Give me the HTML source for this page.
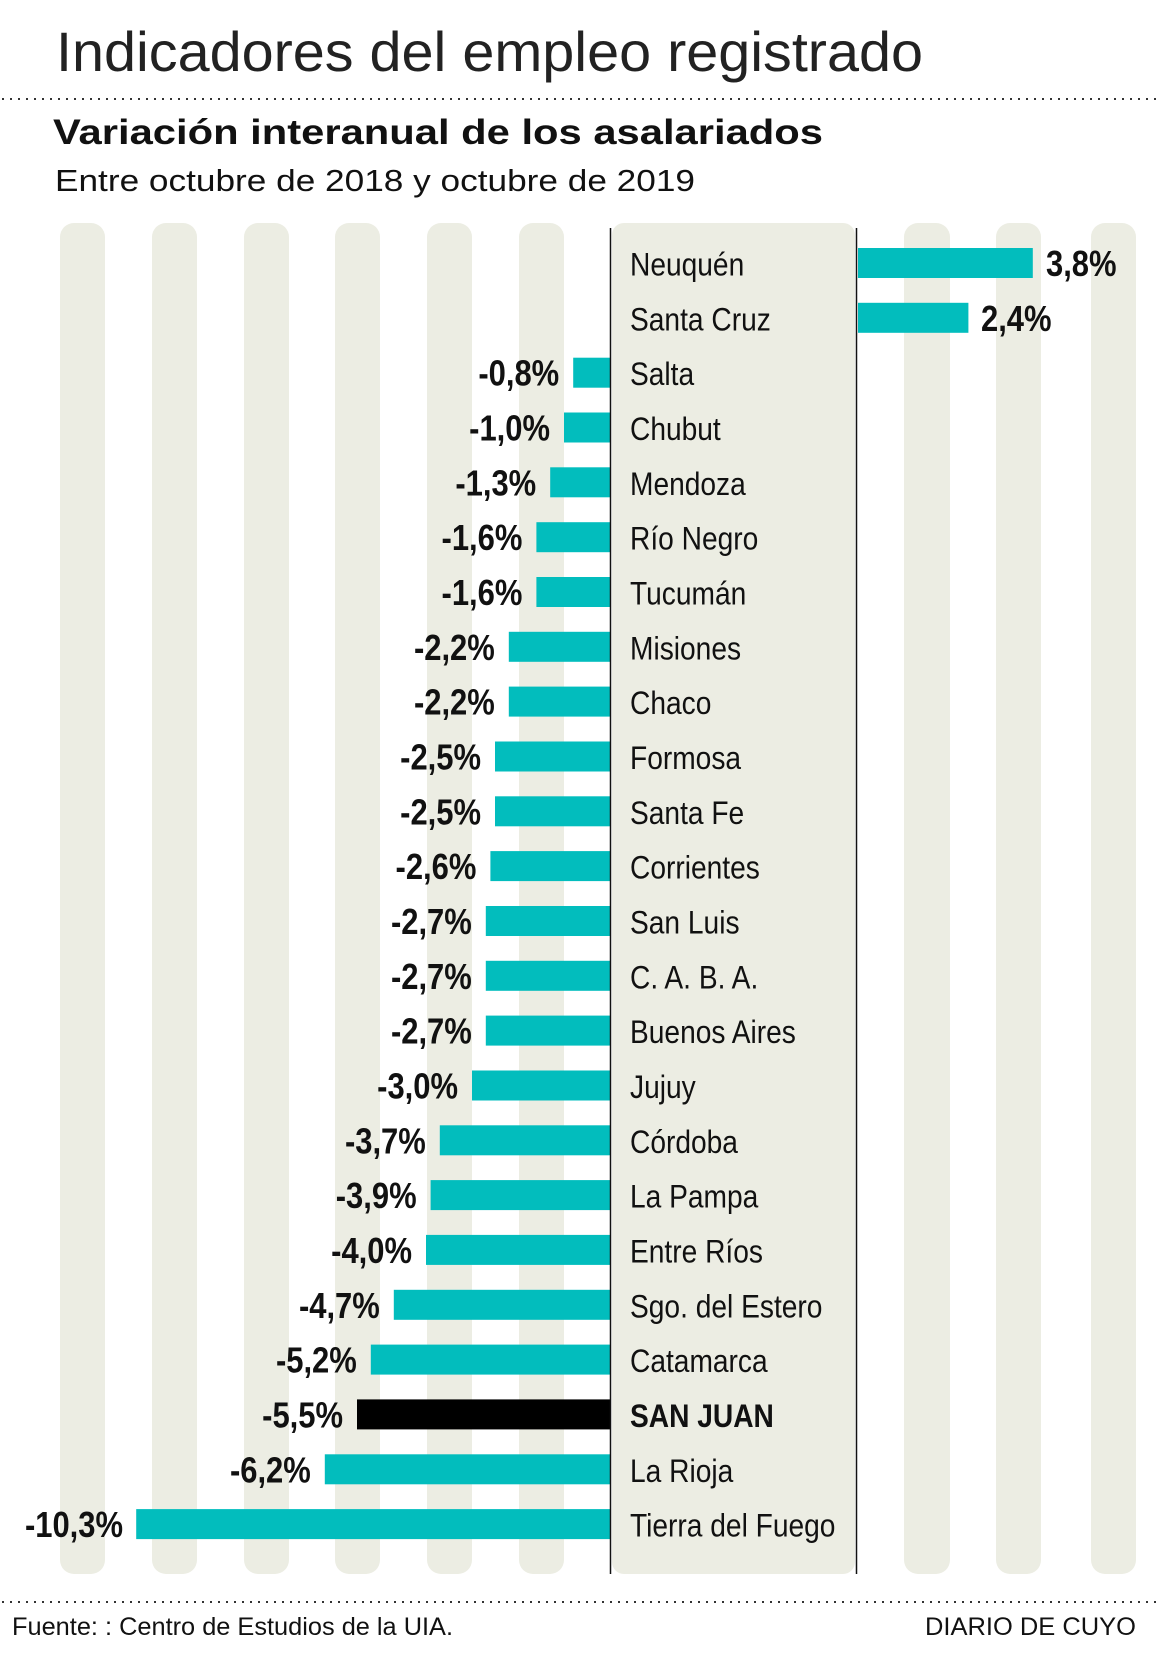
<!DOCTYPE html>
<html>
<head>
<meta charset="utf-8">
<style>
html,body{margin:0;padding:0;background:#fff;}
svg{display:block;}
text{font-family:"Liberation Sans", Arial, sans-serif;}
</style>
</head>
<body>
<svg width="1157" height="1654" viewBox="0 0 1157 1654" xmlns="http://www.w3.org/2000/svg">
  <rect width="1157" height="1654" fill="#ffffff"/>

  <!-- Title -->
  <text x="56" y="71" font-size="56" fill="#222" textLength="867" lengthAdjust="spacingAndGlyphs">Indicadores del empleo registrado</text>
  <line x1="2" y1="99" x2="1156" y2="99" stroke="#333" stroke-width="2" stroke-dasharray="2 6"/>
  <text x="53" y="144" font-size="35" font-weight="bold" fill="#111" textLength="770" lengthAdjust="spacingAndGlyphs">Variación interanual de los asalariados</text>
  <text x="55" y="191" font-size="31" fill="#111" textLength="640" lengthAdjust="spacingAndGlyphs">Entre octubre de 2018 y octubre de 2019</text>

  <!-- Background stripes -->
  <g fill="#ecede3">
    <rect x="60" y="223" width="45" height="1351" rx="14"/>
    <rect x="152" y="223" width="45" height="1351" rx="14"/>
    <rect x="244" y="223" width="45" height="1351" rx="14"/>
    <rect x="335" y="223" width="45" height="1351" rx="14"/>
    <rect x="427" y="223" width="45" height="1351" rx="14"/>
    <rect x="519" y="223" width="45" height="1351" rx="14"/>
    <rect x="612" y="223" width="243" height="1351" rx="12"/>
    <rect x="904" y="223" width="46" height="1351" rx="14"/>
    <rect x="996" y="223" width="45" height="1351" rx="14"/>
    <rect x="1091" y="223" width="45" height="1351" rx="14"/>
  </g>

  <!-- Bars -->
  <g fill="#02bdbd">
    <rect x="858" y="248.0" width="174.8" height="30"/>
    <rect x="858" y="302.8" width="110.4" height="30"/>
    <rect x="573.2" y="357.7" width="36.8" height="30"/>
    <rect x="564" y="412.5" width="46" height="30"/>
    <rect x="550.2" y="467.3" width="59.8" height="30"/>
    <rect x="536.4" y="522.2" width="73.6" height="30"/>
    <rect x="536.4" y="577.0" width="73.6" height="30"/>
    <rect x="508.8" y="631.8" width="101.2" height="30"/>
    <rect x="508.8" y="686.6" width="101.2" height="30"/>
    <rect x="495" y="741.5" width="115" height="30"/>
    <rect x="495" y="796.3" width="115" height="30"/>
    <rect x="490.4" y="851.1" width="119.6" height="30"/>
    <rect x="485.8" y="906.0" width="124.2" height="30"/>
    <rect x="485.8" y="960.8" width="124.2" height="30"/>
    <rect x="485.8" y="1015.6" width="124.2" height="30"/>
    <rect x="472" y="1070.5" width="138" height="30"/>
    <rect x="439.8" y="1125.3" width="170.2" height="30"/>
    <rect x="430.6" y="1180.1" width="179.4" height="30"/>
    <rect x="426" y="1234.9" width="184" height="30"/>
    <rect x="393.8" y="1289.8" width="216.2" height="30"/>
    <rect x="370.8" y="1344.6" width="239.2" height="30"/>
    <rect x="324.8" y="1454.3" width="285.2" height="30"/>
    <rect x="136.2" y="1509.1" width="473.8" height="30"/>
  </g>
  <rect x="357" y="1399.4" width="253" height="30" fill="#000"/>

  <!-- Axis lines -->
  <line x1="610.5" y1="228" x2="610.5" y2="1574" stroke="#111" stroke-width="1.5"/>
  <line x1="856.5" y1="228" x2="856.5" y2="1574" stroke="#111" stroke-width="1.5"/>

  <!-- Region labels -->
  <g font-size="32" fill="#111">
    <text transform="translate(630,275.5) scale(0.88,1)">Neuquén</text>
    <text transform="translate(630,330.3) scale(0.88,1)">Santa Cruz</text>
    <text transform="translate(630,385.2) scale(0.88,1)">Salta</text>
    <text transform="translate(630,440.0) scale(0.88,1)">Chubut</text>
    <text transform="translate(630,494.8) scale(0.88,1)">Mendoza</text>
    <text transform="translate(630,549.7) scale(0.88,1)">Río Negro</text>
    <text transform="translate(630,604.5) scale(0.88,1)">Tucumán</text>
    <text transform="translate(630,659.3) scale(0.88,1)">Misiones</text>
    <text transform="translate(630,714.1) scale(0.88,1)">Chaco</text>
    <text transform="translate(630,769.0) scale(0.88,1)">Formosa</text>
    <text transform="translate(630,823.8) scale(0.88,1)">Santa Fe</text>
    <text transform="translate(630,878.6) scale(0.88,1)">Corrientes</text>
    <text transform="translate(630,933.5) scale(0.88,1)">San Luis</text>
    <text transform="translate(630,988.3) scale(0.88,1)">C. A. B. A.</text>
    <text transform="translate(630,1043.1) scale(0.88,1)">Buenos Aires</text>
    <text transform="translate(630,1098.0) scale(0.88,1)">Jujuy</text>
    <text transform="translate(630,1152.8) scale(0.88,1)">Córdoba</text>
    <text transform="translate(630,1207.6) scale(0.88,1)">La Pampa</text>
    <text transform="translate(630,1262.4) scale(0.88,1)">Entre Ríos</text>
    <text transform="translate(630,1317.3) scale(0.88,1)">Sgo. del Estero</text>
    <text transform="translate(630,1372.1) scale(0.88,1)">Catamarca</text>
    <text transform="translate(630,1426.9) scale(0.88,1)" font-weight="bold">SAN JUAN</text>
    <text transform="translate(630,1481.8) scale(0.88,1)">La Rioja</text>
    <text transform="translate(630,1536.6) scale(0.88,1)">Tierra del Fuego</text>
  </g>

  <!-- Value labels -->
  <g font-size="36" font-weight="bold" fill="#111">
    <text transform="translate(1046,276.0) scale(0.86,1)">3,8%</text>
    <text transform="translate(981,330.8) scale(0.86,1)">2,4%</text>
    <g text-anchor="end">
      <text transform="translate(559.2,385.7) scale(0.86,1)">-0,8%</text>
      <text transform="translate(550,440.5) scale(0.86,1)">-1,0%</text>
      <text transform="translate(536.2,495.3) scale(0.86,1)">-1,3%</text>
      <text transform="translate(522.4,550.2) scale(0.86,1)">-1,6%</text>
      <text transform="translate(522.4,605.0) scale(0.86,1)">-1,6%</text>
      <text transform="translate(494.8,659.8) scale(0.86,1)">-2,2%</text>
      <text transform="translate(494.8,714.6) scale(0.86,1)">-2,2%</text>
      <text transform="translate(481,769.5) scale(0.86,1)">-2,5%</text>
      <text transform="translate(481,824.3) scale(0.86,1)">-2,5%</text>
      <text transform="translate(476.4,879.1) scale(0.86,1)">-2,6%</text>
      <text transform="translate(471.8,934.0) scale(0.86,1)">-2,7%</text>
      <text transform="translate(471.8,988.8) scale(0.86,1)">-2,7%</text>
      <text transform="translate(471.8,1043.6) scale(0.86,1)">-2,7%</text>
      <text transform="translate(458,1098.5) scale(0.86,1)">-3,0%</text>
      <text transform="translate(425.8,1153.3) scale(0.86,1)">-3,7%</text>
      <text transform="translate(416.6,1208.1) scale(0.86,1)">-3,9%</text>
      <text transform="translate(412,1262.9) scale(0.86,1)">-4,0%</text>
      <text transform="translate(379.8,1317.8) scale(0.86,1)">-4,7%</text>
      <text transform="translate(356.8,1372.6) scale(0.86,1)">-5,2%</text>
      <text transform="translate(343,1427.4) scale(0.86,1)">-5,5%</text>
      <text transform="translate(310.8,1482.3) scale(0.86,1)">-6,2%</text>
      <text transform="translate(123,1537.1) scale(0.86,1)">-10,3%</text>
    </g>
  </g>

  <!-- Footer -->
  <line x1="2" y1="1602" x2="1156" y2="1602" stroke="#333" stroke-width="2" stroke-dasharray="2 6"/>
  <text x="12" y="1635" font-size="25" fill="#111" textLength="441" lengthAdjust="spacingAndGlyphs">Fuente: : Centro de Estudios de la UIA.</text>
  <text x="1136" y="1635" font-size="25" fill="#111" text-anchor="end" textLength="211" lengthAdjust="spacingAndGlyphs">DIARIO DE CUYO</text>
</svg>
</body>
</html>
